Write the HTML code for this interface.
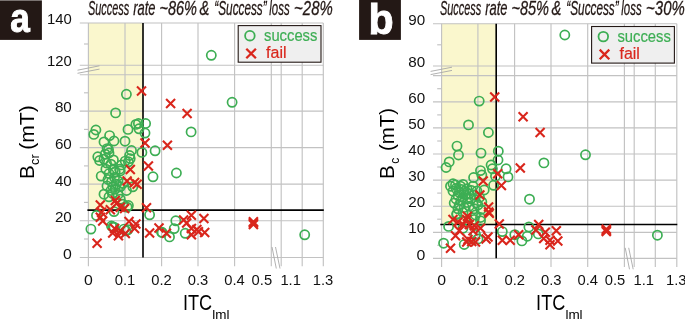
<!DOCTYPE html>
<html><head><meta charset="utf-8"><title>chart</title>
<style>html,body{margin:0;padding:0;background:#fff}body{width:685px;height:320px;overflow:hidden;font-family:"Liberation Sans",sans-serif}</style>
</head><body>
<svg width="685" height="320" viewBox="0 0 685 320" style="display:block;will-change:transform;font-family:'Liberation Sans',sans-serif">
<rect width="685" height="320" fill="#fff"/>
<rect x="0" y="0.4" width="41.9" height="39.5" fill="#231815"/>
<rect x="359.1" y="0" width="41.8" height="39.9" fill="#231815"/>
<text x="20.1" y="31.7" font-size="41.4" font-weight="bold" fill="#fff" stroke="#fff" stroke-width="1.0" text-anchor="middle" textLength="19.6" lengthAdjust="spacingAndGlyphs">a</text>
<text x="381" y="34.3" font-size="42.2" font-weight="bold" fill="#fff" stroke="#fff" stroke-width="0.9" text-anchor="middle" textLength="25.2" lengthAdjust="spacingAndGlyphs">b</text>
<rect x="88.4" y="23" width="54.8" height="187.0" fill="#faf7cd"/><g stroke="#c2c2c2" stroke-width="1.15" fill="none"><path d="M79.80000000000001 23H323.3"/><path d="M79.80000000000001 65.2H323.3"/><path d="M79.80000000000001 74.7H323.3"/><path d="M79.80000000000001 111.1H323.3"/><path d="M79.80000000000001 147.6H323.3"/><path d="M79.80000000000001 184.1H323.3"/><path d="M79.80000000000001 220.7H323.3"/><path d="M79.80000000000001 257.5H323.3"/><path d="M84.0 44H88.4"/><path d="M84.0 92.8H88.4"/><path d="M84.0 129.4H88.4"/><path d="M84.0 165.9H88.4"/><path d="M84.0 202.4H88.4"/><path d="M84.0 239H88.4"/><path d="M88.4 23V266.3"/><path d="M125 23V266.3"/><path d="M161.6 23V266.3"/><path d="M198 23V266.3"/><path d="M234.6 23V266.3"/><path d="M271.3 23V266.3"/><path d="M281.2 23V266.3"/><path d="M302.2 23V266.3"/><path d="M323.3 23V266.3"/></g>
<rect x="441.6" y="23.7" width="54.6" height="200.8" fill="#faf7cd"/><g stroke="#c2c2c2" stroke-width="1.15" fill="none"><path d="M433.0 23.7H676.8"/><path d="M433.0 66H676.8"/><path d="M433.0 75.6H676.8"/><path d="M433.0 101.8H676.8"/><path d="M433.0 127.9H676.8"/><path d="M433.0 154H676.8"/><path d="M433.0 180.1H676.8"/><path d="M433.0 206.2H676.8"/><path d="M433.0 232.3H676.8"/><path d="M433.0 258.3H676.8"/><path d="M437.20000000000005 44.8H441.6"/><path d="M437.20000000000005 88.7H441.6"/><path d="M437.20000000000005 114.9H441.6"/><path d="M437.20000000000005 141H441.6"/><path d="M437.20000000000005 167H441.6"/><path d="M437.20000000000005 193.1H441.6"/><path d="M437.20000000000005 219.2H441.6"/><path d="M437.20000000000005 245.3H441.6"/><path d="M441.6 23.7V267.1"/><path d="M477.9 23.7V267.1"/><path d="M514.6 23.7V267.1"/><path d="M551 23.7V267.1"/><path d="M587.7 23.7V267.1"/><path d="M624.4 23.7V267.1"/><path d="M634.2 23.7V267.1"/><path d="M655.3 23.7V267.1"/><path d="M676.8 23.7V267.1"/></g>
<g stroke="#a8a8a8" stroke-width="0.9" fill="none">
<path d="M77.5 70.2L99.5 65.8M77.5 73.3L99.5 69.1"/>
<path d="M430.6 71.4L452 67.2M430.6 74.6L452 70.4"/>
<path d="M272 247L276.3 268.5M275.5 247L280 268.5"/>
<path d="M625.2 247.8L629.5 269.3M628.7 247.8L633.2 269.3"/>
</g>
<g stroke="#000" stroke-width="1.6" fill="none">
<path d="M143.0 23V257.5M87.4 210.1H323.8"/>
<path d="M496.2 23.7V258.3M440.3 224.5H677.3"/>
</g>
<g stroke="#3dae54" stroke-width="1.7" fill="none">
<circle cx="126.4" cy="94.3" r="4.6"/>
<circle cx="115.6" cy="112.9" r="4.6"/>
<circle cx="95.9" cy="130.0" r="4.6"/>
<circle cx="93.8" cy="134.4" r="4.6"/>
<circle cx="109.6" cy="135.6" r="4.6"/>
<circle cx="104.0" cy="141.9" r="4.6"/>
<circle cx="114.0" cy="141.0" r="4.6"/>
<circle cx="125.0" cy="141.2" r="4.6"/>
<circle cx="128.0" cy="129.4" r="4.6"/>
<circle cx="135.9" cy="124.4" r="4.6"/>
<circle cx="138.4" cy="123.5" r="4.6"/>
<circle cx="139.0" cy="128.8" r="4.6"/>
<circle cx="145.6" cy="123.5" r="4.6"/>
<circle cx="145.0" cy="133.1" r="4.6"/>
<circle cx="107.1" cy="148.6" r="4.6"/>
<circle cx="108.5" cy="149.5" r="4.6"/>
<circle cx="131.5" cy="150.5" r="4.6"/>
<circle cx="141.9" cy="152.4" r="4.6"/>
<circle cx="97.8" cy="156.8" r="4.6"/>
<circle cx="99.6" cy="160.5" r="4.6"/>
<circle cx="129.6" cy="155.5" r="4.6"/>
<circle cx="130.2" cy="158.6" r="4.6"/>
<circle cx="128.4" cy="161.8" r="4.6"/>
<circle cx="125.2" cy="161.1" r="4.6"/>
<circle cx="121.5" cy="164.9" r="4.6"/>
<circle cx="119.6" cy="169.2" r="4.6"/>
<circle cx="113.4" cy="159.9" r="4.6"/>
<circle cx="110.9" cy="164.2" r="4.6"/>
<circle cx="106.5" cy="163.0" r="4.6"/>
<circle cx="104.0" cy="159.2" r="4.6"/>
<circle cx="105.2" cy="154.2" r="4.6"/>
<circle cx="109.0" cy="153.0" r="4.6"/>
<circle cx="105.9" cy="169.2" r="4.6"/>
<circle cx="113.4" cy="169.9" r="4.6"/>
<circle cx="101.2" cy="176.1" r="4.6"/>
<circle cx="109.0" cy="173.6" r="4.6"/>
<circle cx="153.0" cy="176.8" r="4.6"/>
<circle cx="115.2" cy="171.8" r="4.6"/>
<circle cx="120.2" cy="171.0" r="4.6"/>
<circle cx="111.5" cy="181.8" r="4.6"/>
<circle cx="116.5" cy="184.2" r="4.6"/>
<circle cx="120.2" cy="186.8" r="4.6"/>
<circle cx="115.2" cy="189.2" r="4.6"/>
<circle cx="110.9" cy="190.5" r="4.6"/>
<circle cx="104.0" cy="194.2" r="4.6"/>
<circle cx="109.0" cy="196.8" r="4.6"/>
<circle cx="120.2" cy="199.2" r="4.6"/>
<circle cx="126.5" cy="190.5" r="4.6"/>
<circle cx="128.4" cy="205.5" r="4.6"/>
<circle cx="132.8" cy="186.8" r="4.6"/>
<circle cx="122.8" cy="204.2" r="4.6"/>
<circle cx="90.9" cy="229.1" r="4.6"/>
<circle cx="96.5" cy="215.4" r="4.6"/>
<circle cx="149.6" cy="214.8" r="4.6"/>
<circle cx="127.1" cy="207.2" r="4.6"/>
<circle cx="114.0" cy="211.6" r="4.6"/>
<circle cx="111.5" cy="226.0" r="4.6"/>
<circle cx="114.0" cy="227.2" r="4.6"/>
<circle cx="124.0" cy="229.1" r="4.6"/>
<circle cx="127.8" cy="229.8" r="4.6"/>
<circle cx="161.5" cy="232.2" r="4.6"/>
<circle cx="112.8" cy="227.0" r="4.6"/>
<circle cx="125.9" cy="230.8" r="4.6"/>
<circle cx="108.0" cy="179.5" r="4.6"/>
<circle cx="113.0" cy="186.5" r="4.6"/>
<circle cx="118.0" cy="181.0" r="4.6"/>
<circle cx="112.5" cy="193.5" r="4.6"/>
<circle cx="118.0" cy="194.5" r="4.6"/>
<circle cx="123.0" cy="183.5" r="4.6"/>
<circle cx="107.0" cy="186.0" r="4.6"/>
<circle cx="114.5" cy="177.5" r="4.6"/>
<circle cx="211.3" cy="55.3" r="4.6"/>
<circle cx="232.1" cy="102.3" r="4.6"/>
<circle cx="191.1" cy="131.9" r="4.6"/>
<circle cx="155.1" cy="150.8" r="4.6"/>
<circle cx="176.4" cy="173.0" r="4.6"/>
<circle cx="175.8" cy="220.8" r="4.6"/>
<circle cx="174.2" cy="228.6" r="4.6"/>
<circle cx="162.2" cy="232.5" r="4.6"/>
<circle cx="169.5" cy="236.9" r="4.6"/>
<circle cx="185.2" cy="233.3" r="4.6"/>
<circle cx="304.7" cy="234.8" r="4.6"/>
<circle cx="564.8" cy="35.0" r="4.6"/>
<circle cx="479.2" cy="101.1" r="4.6"/>
<circle cx="468.5" cy="124.9" r="4.6"/>
<circle cx="488.4" cy="132.5" r="4.6"/>
<circle cx="457.0" cy="146.1" r="4.6"/>
<circle cx="458.5" cy="155.0" r="4.6"/>
<circle cx="481.0" cy="153.1" r="4.6"/>
<circle cx="498.3" cy="151.2" r="4.6"/>
<circle cx="449.2" cy="161.9" r="4.6"/>
<circle cx="446.1" cy="167.5" r="4.6"/>
<circle cx="498.0" cy="160.0" r="4.6"/>
<circle cx="491.1" cy="165.0" r="4.6"/>
<circle cx="492.4" cy="168.8" r="4.6"/>
<circle cx="506.1" cy="168.8" r="4.6"/>
<circle cx="508.0" cy="176.9" r="4.6"/>
<circle cx="480.5" cy="170.6" r="4.6"/>
<circle cx="481.8" cy="175.0" r="4.6"/>
<circle cx="473.6" cy="177.5" r="4.6"/>
<circle cx="495.5" cy="176.2" r="4.6"/>
<circle cx="453.0" cy="183.8" r="4.6"/>
<circle cx="463.0" cy="184.4" r="4.6"/>
<circle cx="493.6" cy="185.3" r="4.6"/>
<circle cx="450.5" cy="186.2" r="4.6"/>
<circle cx="455.5" cy="185.0" r="4.6"/>
<circle cx="460.5" cy="186.2" r="4.6"/>
<circle cx="473.0" cy="186.2" r="4.6"/>
<circle cx="484.2" cy="190.0" r="4.6"/>
<circle cx="453.0" cy="191.2" r="4.6"/>
<circle cx="459.2" cy="192.5" r="4.6"/>
<circle cx="464.2" cy="191.2" r="4.6"/>
<circle cx="469.2" cy="193.8" r="4.6"/>
<circle cx="463.0" cy="197.5" r="4.6"/>
<circle cx="468.0" cy="198.8" r="4.6"/>
<circle cx="474.2" cy="195.0" r="4.6"/>
<circle cx="454.2" cy="203.1" r="4.6"/>
<circle cx="459.2" cy="205.0" r="4.6"/>
<circle cx="458.0" cy="208.8" r="4.6"/>
<circle cx="464.2" cy="207.5" r="4.6"/>
<circle cx="469.2" cy="206.2" r="4.6"/>
<circle cx="474.2" cy="208.8" r="4.6"/>
<circle cx="478.0" cy="205.0" r="4.6"/>
<circle cx="456.8" cy="213.8" r="4.6"/>
<circle cx="463.0" cy="212.5" r="4.6"/>
<circle cx="475.5" cy="215.0" r="4.6"/>
<circle cx="480.5" cy="217.5" r="4.6"/>
<circle cx="481.8" cy="201.9" r="4.6"/>
<circle cx="477.0" cy="191.0" r="4.6"/>
<circle cx="479.5" cy="197.5" r="4.6"/>
<circle cx="476.5" cy="203.0" r="4.6"/>
<circle cx="481.0" cy="209.5" r="4.6"/>
<circle cx="456.0" cy="188.5" r="4.6"/>
<circle cx="461.5" cy="189.5" r="4.6"/>
<circle cx="467.0" cy="188.8" r="4.6"/>
<circle cx="471.5" cy="190.5" r="4.6"/>
<circle cx="458.0" cy="195.5" r="4.6"/>
<circle cx="465.5" cy="195.0" r="4.6"/>
<circle cx="471.0" cy="198.5" r="4.6"/>
<circle cx="461.0" cy="200.5" r="4.6"/>
<circle cx="467.0" cy="202.5" r="4.6"/>
<circle cx="456.0" cy="199.0" r="4.6"/>
<circle cx="443.6" cy="243.2" r="4.6"/>
<circle cx="448.6" cy="226.4" r="4.6"/>
<circle cx="480.5" cy="220.8" r="4.6"/>
<circle cx="464.2" cy="244.5" r="4.6"/>
<circle cx="478.0" cy="238.9" r="4.6"/>
<circle cx="474.2" cy="219.5" r="4.6"/>
<circle cx="456.8" cy="214.5" r="4.6"/>
<circle cx="463.0" cy="228.2" r="4.6"/>
<circle cx="475.5" cy="234.5" r="4.6"/>
<circle cx="502.3" cy="231.6" r="4.6"/>
<circle cx="514.8" cy="234.7" r="4.6"/>
<circle cx="528.9" cy="226.9" r="4.6"/>
<circle cx="527.3" cy="236.2" r="4.6"/>
<circle cx="521.9" cy="240.9" r="4.6"/>
<circle cx="538.3" cy="233.9" r="4.6"/>
<circle cx="585.5" cy="154.8" r="4.6"/>
<circle cx="543.9" cy="162.9" r="4.6"/>
<circle cx="529.5" cy="199.2" r="4.6"/>
<circle cx="657.4" cy="235.2" r="4.6"/>
</g>
<g stroke="#d9261c" stroke-width="2.1" fill="none">
<path d="M137.0 86.4L146.0 95.4M137.0 95.4L146.0 86.4"/>
<path d="M166.1 99.0L175.1 108.0M166.1 108.0L175.1 99.0"/>
<path d="M140.5 138.6L149.5 147.6M140.5 147.6L149.5 138.6"/>
<path d="M125.8 165.1L134.8 174.1M125.8 174.1L134.8 165.1"/>
<path d="M143.9 161.6L152.9 170.6M143.9 170.6L152.9 161.6"/>
<path d="M122.6 176.6L131.6 185.6M122.6 185.6L131.6 176.6"/>
<path d="M130.1 177.9L139.1 186.9M130.1 186.9L139.1 177.9"/>
<path d="M132.6 179.8L141.6 188.8M132.6 188.8L141.6 179.8"/>
<path d="M110.8 196.0L119.8 205.0M110.8 205.0L119.8 196.0"/>
<path d="M95.8 200.4L104.8 209.4M95.8 209.4L104.8 200.4"/>
<path d="M142.0 203.2L151.0 212.2M142.0 212.2L151.0 203.2"/>
<path d="M112.0 199.0L121.0 208.0M112.0 208.0L121.0 199.0"/>
<path d="M115.8 202.8L124.8 211.8M115.8 211.8L124.8 202.8"/>
<path d="M120.1 204.0L129.1 213.0M120.1 213.0L129.1 204.0"/>
<path d="M105.8 205.2L114.8 214.2M105.8 214.2L114.8 205.2"/>
<path d="M97.0 207.8L106.0 216.8M97.0 216.8L106.0 207.8"/>
<path d="M95.8 212.8L104.8 221.8M95.8 221.8L104.8 212.8"/>
<path d="M98.2 216.5L107.2 225.5M98.2 225.5L107.2 216.5"/>
<path d="M124.5 217.1L133.5 226.1M124.5 226.1L133.5 217.1"/>
<path d="M131.4 219.6L140.4 228.6M131.4 228.6L140.4 219.6"/>
<path d="M130.1 224.0L139.1 233.0M130.1 233.0L139.1 224.0"/>
<path d="M110.1 224.0L119.1 233.0M110.1 233.0L119.1 224.0"/>
<path d="M115.8 226.5L124.8 235.5M115.8 235.5L124.8 226.5"/>
<path d="M108.2 228.4L117.2 237.4M108.2 237.4L117.2 228.4"/>
<path d="M145.1 228.4L154.1 237.4M145.1 237.4L154.1 228.4"/>
<path d="M154.5 223.4L163.5 232.4M154.5 232.4L163.5 223.4"/>
<path d="M120.8 229.0L129.8 238.0M120.8 238.0L129.8 229.0"/>
<path d="M92.6 238.8L101.6 247.8M92.6 247.8L101.6 238.8"/>
<path d="M113.9 231.2L122.9 240.2M113.9 240.2L122.9 231.2"/>
<path d="M182.6 109.0L191.6 118.0M182.6 118.0L191.6 109.0"/>
<path d="M162.9 140.7L171.9 149.7M162.9 149.7L171.9 140.7"/>
<path d="M161.9 228.8L170.9 237.8M161.9 237.8L170.9 228.8"/>
<path d="M179.1 215.5L188.1 224.5M179.1 224.5L188.1 215.5"/>
<path d="M186.9 210.8L195.9 219.8M186.9 219.8L195.9 210.8"/>
<path d="M182.2 218.6L191.2 227.6M182.2 227.6L191.2 218.6"/>
<path d="M199.4 213.9L208.4 222.9M199.4 222.9L208.4 213.9"/>
<path d="M186.9 224.1L195.9 233.1M186.9 233.1L195.9 224.1"/>
<path d="M192.4 224.9L201.4 233.9M192.4 233.9L201.4 224.9"/>
<path d="M186.9 230.3L195.9 239.3M186.9 239.3L195.9 230.3"/>
<path d="M200.2 228.0L209.2 237.0M200.2 237.0L209.2 228.0"/>
<path d="M193.9 227.2L202.9 236.2M193.9 236.2L202.9 227.2"/>
<path d="M248.9 217.3L257.9 226.3M248.9 226.3L257.9 217.3"/>
<path d="M248.9 218.6L257.9 227.6M248.9 227.6L257.9 218.6"/>
<path d="M248.9 219.9L257.9 228.9M248.9 228.9L257.9 219.9"/>
<path d="M490.2 92.5L499.2 101.5M490.2 101.5L499.2 92.5"/>
<path d="M518.6 112.2L527.6 121.2M518.6 121.2L527.6 112.2"/>
<path d="M535.6 128.0L544.6 137.0M535.6 137.0L544.6 128.0"/>
<path d="M493.2 169.2L502.2 178.2M493.2 178.2L502.2 169.2"/>
<path d="M478.7 176.6L487.7 185.6M478.7 185.6L487.7 176.6"/>
<path d="M496.9 181.1L505.9 190.1M496.9 190.1L505.9 181.1"/>
<path d="M515.8 163.5L524.8 172.5M515.8 172.5L524.8 163.5"/>
<path d="M475.4 190.5L484.4 199.5M475.4 199.5L484.4 190.5"/>
<path d="M484.1 202.4L493.1 211.4M484.1 211.4L493.1 202.4"/>
<path d="M484.1 207.4L493.1 216.4M484.1 216.4L493.1 207.4"/>
<path d="M462.9 211.7L471.9 220.7M462.9 220.7L471.9 211.7"/>
<path d="M484.8 208.8L493.8 217.8M484.8 217.8L493.8 208.8"/>
<path d="M494.8 219.4L503.8 228.4M494.8 228.4L503.8 219.4"/>
<path d="M448.5 215.0L457.5 224.0M448.5 224.0L457.5 215.0"/>
<path d="M453.5 217.5L462.5 226.5M453.5 226.5L462.5 217.5"/>
<path d="M462.2 215.0L471.2 224.0M462.2 224.0L471.2 215.0"/>
<path d="M464.8 220.0L473.8 229.0M464.8 229.0L473.8 220.0"/>
<path d="M469.8 221.2L478.8 230.2M469.8 230.2L478.8 221.2"/>
<path d="M476.0 223.8L485.0 232.8M476.0 232.8L485.0 223.8"/>
<path d="M468.5 226.2L477.5 235.2M468.5 235.2L477.5 226.2"/>
<path d="M458.5 220.0L467.5 229.0M458.5 229.0L467.5 220.0"/>
<path d="M451.0 231.2L460.0 240.2M451.0 240.2L460.0 231.2"/>
<path d="M463.5 235.0L472.5 244.0M463.5 244.0L472.5 235.0"/>
<path d="M467.2 236.9L476.2 245.9M467.2 245.9L476.2 236.9"/>
<path d="M462.2 237.5L471.2 246.5M462.2 246.5L471.2 237.5"/>
<path d="M471.0 237.5L480.0 246.5M471.0 246.5L480.0 237.5"/>
<path d="M483.5 232.5L492.5 241.5M483.5 241.5L492.5 232.5"/>
<path d="M481.6 234.4L490.6 243.4M481.6 243.4L490.6 234.4"/>
<path d="M446.0 243.8L455.0 252.8M446.0 252.8L455.0 243.8"/>
<path d="M454.8 226.2L463.8 235.2M454.8 235.2L463.8 226.2"/>
<path d="M497.8 235.7L506.8 244.7M497.8 244.7L506.8 235.7"/>
<path d="M505.7 235.7L514.7 244.7M505.7 244.7L514.7 235.7"/>
<path d="M514.2 230.2L523.2 239.2M514.2 239.2L523.2 230.2"/>
<path d="M534.2 220.0L543.2 229.0M534.2 229.0L543.2 220.0"/>
<path d="M531.4 225.5L540.4 234.5M531.4 234.5L540.4 225.5"/>
<path d="M540.8 227.8L549.8 236.8M540.8 236.8L549.8 227.8"/>
<path d="M539.2 234.1L548.2 243.1M539.2 243.1L548.2 234.1"/>
<path d="M551.8 226.3L560.8 235.3M551.8 235.3L560.8 226.3"/>
<path d="M545.5 235.7L554.5 244.7M545.5 244.7L554.5 235.7"/>
<path d="M553.3 236.4L562.3 245.4M553.3 245.4L562.3 236.4"/>
<path d="M545.5 240.3L554.5 249.3M545.5 249.3L554.5 240.3"/>
<path d="M601.8 224.8L610.8 233.8M601.8 233.8L610.8 224.8"/>
<path d="M601.8 225.9L610.8 234.9M601.8 234.9L610.8 225.9"/>
<path d="M601.8 227.0L610.8 236.0M601.8 236.0L610.8 227.0"/>
</g>
<rect x="238.2" y="25.6" width="82.8" height="36.6" fill="#efefef" stroke="#231815" stroke-width="1.1"/><circle cx="249.89999999999998" cy="35.7" r="4.8" stroke="#3dae54" stroke-width="1.8" fill="none"/><g stroke="#d9261c" stroke-width="2.3"><path d="M246.3 48.7L255.9 58.3M246.3 58.3L255.9 48.7"/></g><text x="264.0" y="40.9" font-size="17.4" fill="#3dae54" stroke="#3dae54" stroke-width="0.2" textLength="53.4" lengthAdjust="spacingAndGlyphs">success</text><text x="266.09999999999997" y="58.1" font-size="17.4" fill="#d9261c" stroke="#d9261c" stroke-width="0.2" textLength="20.4" lengthAdjust="spacingAndGlyphs">fail</text>
<rect x="591.6" y="26.5" width="82.8" height="36.6" fill="#efefef" stroke="#231815" stroke-width="1.1"/><circle cx="603.3000000000001" cy="36.6" r="4.8" stroke="#3dae54" stroke-width="1.8" fill="none"/><g stroke="#d9261c" stroke-width="2.3"><path d="M599.7 49.6L609.3 59.2M599.7 59.2L609.3 49.6"/></g><text x="617.4" y="41.8" font-size="17.4" fill="#3dae54" stroke="#3dae54" stroke-width="0.2" textLength="53.4" lengthAdjust="spacingAndGlyphs">success</text><text x="619.5" y="59.0" font-size="17.4" fill="#d9261c" stroke="#d9261c" stroke-width="0.2" textLength="20.4" lengthAdjust="spacingAndGlyphs">fail</text>
<text x="88.0" y="15.0" font-size="19.7" font-style="italic" fill="#231815" stroke="#231815" stroke-width="0.3" textLength="41.3" lengthAdjust="spacingAndGlyphs">Success</text><text x="133.2" y="15.0" font-size="19.7" font-style="italic" fill="#231815" stroke="#231815" stroke-width="0.3" textLength="22.3" lengthAdjust="spacingAndGlyphs">rate</text><text x="159.4" y="15.0" font-size="19.7" font-style="italic" fill="#231815" stroke="#231815" stroke-width="0.3" textLength="37.6" lengthAdjust="spacingAndGlyphs">~86%</text><text x="199.6" y="15.0" font-size="19.7" font-style="italic" fill="#231815" stroke="#231815" stroke-width="0.3" textLength="9.8" lengthAdjust="spacingAndGlyphs">&amp;</text><text x="214.3" y="15.0" font-size="19.7" font-style="italic" fill="#231815" stroke="#231815" stroke-width="0.3" textLength="52.4" lengthAdjust="spacingAndGlyphs">“Success”</text><text x="269.3" y="15.0" font-size="19.7" font-style="italic" fill="#231815" stroke="#231815" stroke-width="0.3" textLength="20.3" lengthAdjust="spacingAndGlyphs">loss</text><text x="294.1" y="15.0" font-size="19.7" font-style="italic" fill="#231815" stroke="#231815" stroke-width="0.3" textLength="38.7" lengthAdjust="spacingAndGlyphs">~28%</text>
<text x="440.0" y="15.0" font-size="19.7" font-style="italic" fill="#231815" stroke="#231815" stroke-width="0.3" textLength="41.3" lengthAdjust="spacingAndGlyphs">Success</text><text x="485.2" y="15.0" font-size="19.7" font-style="italic" fill="#231815" stroke="#231815" stroke-width="0.3" textLength="22.3" lengthAdjust="spacingAndGlyphs">rate</text><text x="511.4" y="15.0" font-size="19.7" font-style="italic" fill="#231815" stroke="#231815" stroke-width="0.3" textLength="37.6" lengthAdjust="spacingAndGlyphs">~85%</text><text x="551.6" y="15.0" font-size="19.7" font-style="italic" fill="#231815" stroke="#231815" stroke-width="0.3" textLength="9.8" lengthAdjust="spacingAndGlyphs">&amp;</text><text x="566.3" y="15.0" font-size="19.7" font-style="italic" fill="#231815" stroke="#231815" stroke-width="0.3" textLength="52.4" lengthAdjust="spacingAndGlyphs">“Success”</text><text x="621.3" y="15.0" font-size="19.7" font-style="italic" fill="#231815" stroke="#231815" stroke-width="0.3" textLength="20.3" lengthAdjust="spacingAndGlyphs">loss</text><text x="646.1" y="15.0" font-size="19.7" font-style="italic" fill="#231815" stroke="#231815" stroke-width="0.3" textLength="38.7" lengthAdjust="spacingAndGlyphs">~30%</text>
<text x="47.0" y="23.8" font-size="15.0" fill="#111" textLength="24.8" lengthAdjust="spacingAndGlyphs">140</text>
<text x="47.0" y="65.8" font-size="15.0" fill="#111" textLength="24.8" lengthAdjust="spacingAndGlyphs">120</text>
<text x="54.9" y="112.4" font-size="15.0" fill="#111" textLength="16.9" lengthAdjust="spacingAndGlyphs">80</text>
<text x="54.9" y="149.0" font-size="15.0" fill="#111" textLength="16.9" lengthAdjust="spacingAndGlyphs">60</text>
<text x="54.9" y="185.6" font-size="15.0" fill="#111" textLength="16.9" lengthAdjust="spacingAndGlyphs">40</text>
<text x="54.9" y="222.2" font-size="15.0" fill="#111" textLength="16.9" lengthAdjust="spacingAndGlyphs">20</text>
<text x="63.0" y="258.7" font-size="15.0" fill="#111" textLength="8.8" lengthAdjust="spacingAndGlyphs">0</text>
<text x="408.3" y="24.9" font-size="15.0" fill="#111" textLength="16.9" lengthAdjust="spacingAndGlyphs">90</text>
<text x="408.3" y="66.9" font-size="15.0" fill="#111" textLength="16.9" lengthAdjust="spacingAndGlyphs">80</text>
<text x="408.3" y="102.7" font-size="15.0" fill="#111" textLength="16.9" lengthAdjust="spacingAndGlyphs">60</text>
<text x="408.3" y="129.0" font-size="15.0" fill="#111" textLength="16.9" lengthAdjust="spacingAndGlyphs">50</text>
<text x="408.3" y="155.1" font-size="15.0" fill="#111" textLength="16.9" lengthAdjust="spacingAndGlyphs">40</text>
<text x="408.3" y="181.4" font-size="15.0" fill="#111" textLength="16.9" lengthAdjust="spacingAndGlyphs">30</text>
<text x="408.3" y="207.4" font-size="15.0" fill="#111" textLength="16.9" lengthAdjust="spacingAndGlyphs">20</text>
<text x="408.3" y="233.4" font-size="15.0" fill="#111" textLength="16.9" lengthAdjust="spacingAndGlyphs">10</text>
<text x="416.4" y="259.5" font-size="15.0" fill="#111" textLength="8.8" lengthAdjust="spacingAndGlyphs">0</text>
<text x="84.0" y="285.4" font-size="15.0" fill="#111" textLength="8.8" lengthAdjust="spacingAndGlyphs">0</text>
<text x="114.8" y="285.4" font-size="15.0" fill="#111" textLength="20.5" lengthAdjust="spacingAndGlyphs">0.1</text>
<text x="151.3" y="285.4" font-size="15.0" fill="#111" textLength="20.5" lengthAdjust="spacingAndGlyphs">0.2</text>
<text x="187.8" y="285.4" font-size="15.0" fill="#111" textLength="20.5" lengthAdjust="spacingAndGlyphs">0.3</text>
<text x="224.3" y="285.4" font-size="15.0" fill="#111" textLength="20.5" lengthAdjust="spacingAndGlyphs">0.4</text>
<text x="251.6" y="285.4" font-size="15.0" fill="#111" textLength="20.5" lengthAdjust="spacingAndGlyphs">0.5</text>
<text x="280.4" y="285.4" font-size="15.0" fill="#111" textLength="20.5" lengthAdjust="spacingAndGlyphs">1.1</text>
<text x="312.8" y="285.4" font-size="15.0" fill="#111" textLength="20.5" lengthAdjust="spacingAndGlyphs">1.3</text>
<text x="182.9" y="310.0" font-size="21.4" fill="#000" textLength="29.2" lengthAdjust="spacingAndGlyphs">ITC</text>
<text x="212.2" y="318.7" font-size="12.5" fill="#000" textLength="17.2" lengthAdjust="spacingAndGlyphs">lml</text>
<text x="437.2" y="285.4" font-size="15.0" fill="#111" textLength="8.8" lengthAdjust="spacingAndGlyphs">0</text>
<text x="467.9" y="285.4" font-size="15.0" fill="#111" textLength="20.5" lengthAdjust="spacingAndGlyphs">0.1</text>
<text x="504.5" y="285.4" font-size="15.0" fill="#111" textLength="20.5" lengthAdjust="spacingAndGlyphs">0.2</text>
<text x="541.0" y="285.4" font-size="15.0" fill="#111" textLength="20.5" lengthAdjust="spacingAndGlyphs">0.3</text>
<text x="577.5" y="285.4" font-size="15.0" fill="#111" textLength="20.5" lengthAdjust="spacingAndGlyphs">0.4</text>
<text x="604.8" y="285.4" font-size="15.0" fill="#111" textLength="20.5" lengthAdjust="spacingAndGlyphs">0.5</text>
<text x="633.5" y="285.4" font-size="15.0" fill="#111" textLength="20.5" lengthAdjust="spacingAndGlyphs">1.1</text>
<text x="666.0" y="285.4" font-size="15.0" fill="#111" textLength="20.5" lengthAdjust="spacingAndGlyphs">1.3</text>
<text x="536.1" y="310.0" font-size="21.4" fill="#000" textLength="29.2" lengthAdjust="spacingAndGlyphs">ITC</text>
<text x="565.4" y="318.7" font-size="12.5" fill="#000" textLength="17.2" lengthAdjust="spacingAndGlyphs">lml</text>
<g transform="translate(33.9,178.6) rotate(-90)" fill="#000"><text x="-0.5" y="0" font-size="20.6" textLength="13.8" lengthAdjust="spacingAndGlyphs">B</text><text x="13.7" y="5" font-size="12.6" textLength="10.6" lengthAdjust="spacingAndGlyphs">cr</text><text x="28.8" y="0" font-size="20.6" textLength="44.6" lengthAdjust="spacingAndGlyphs">(mT)</text></g>
<g transform="translate(393.7,178.6) rotate(-90)" fill="#000"><text x="-0.5" y="0" font-size="20.6" textLength="13.8" lengthAdjust="spacingAndGlyphs">B</text><text x="14.8" y="5" font-size="12.0" textLength="6.0" lengthAdjust="spacingAndGlyphs">c</text><text x="27.6" y="0" font-size="20.6" textLength="43.0" lengthAdjust="spacingAndGlyphs">(mT)</text></g>
</svg>
</body></html>
